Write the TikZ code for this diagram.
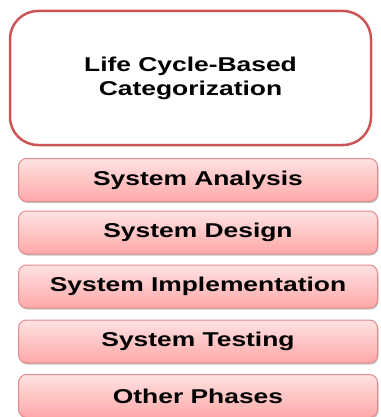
\documentclass[tikz,border=0pt]{standalone}
\usepackage{fontspec}
\usetikzlibrary{shadows}
\newfontfamily\boxfont[FakeStretch=1.32]{Liberation Sans Bold}
\definecolor{titleborder}{RGB}{204,84,84}
\definecolor{phaseborder}{RGB}{226,140,140}
\definecolor{phasetop}{RGB}{255,226,226}
\definecolor{phasebot}{RGB}{255,168,168}
\begin{document}
\begin{tikzpicture}[x=1pt,y=-1pt,
  titlebox/.style={rounded corners=28pt, draw=titleborder, line width=2.5pt, fill=white,
    minimum width=361pt, minimum height=134pt, inner sep=0pt, align=center,
    font=\boxfont\fontsize{20}{24}\selectfont, text=black},
  phase/.style={rounded corners=8pt, draw=phaseborder, line width=1pt,
    top color=phasetop, bottom color=phasebot,
    drop shadow={shadow xshift=1pt, shadow yshift=-1.5pt, fill=black!45, opacity=0.5},
    minimum width=359pt, minimum height=43pt, inner sep=0pt,
    font=\boxfont\fontsize{20}{24}\selectfont, text=black}]
\useasboundingbox (0,0) rectangle (380,417);
\node[titlebox] (t) at (190.5,78) {Life Cycle-Based\\Categorization};
\node[phase] (p1) at (198,180) {System Analysis};
\node[phase] (p2) at (198,232.5) {System Design};
\node[phase] (p3) at (198,286.5) {System Implementation};
\node[phase] (p4) at (198,341.5) {System Testing};
\node[phase] (p5) at (198,396) {Other Phases};
\end{tikzpicture}
\end{document}
